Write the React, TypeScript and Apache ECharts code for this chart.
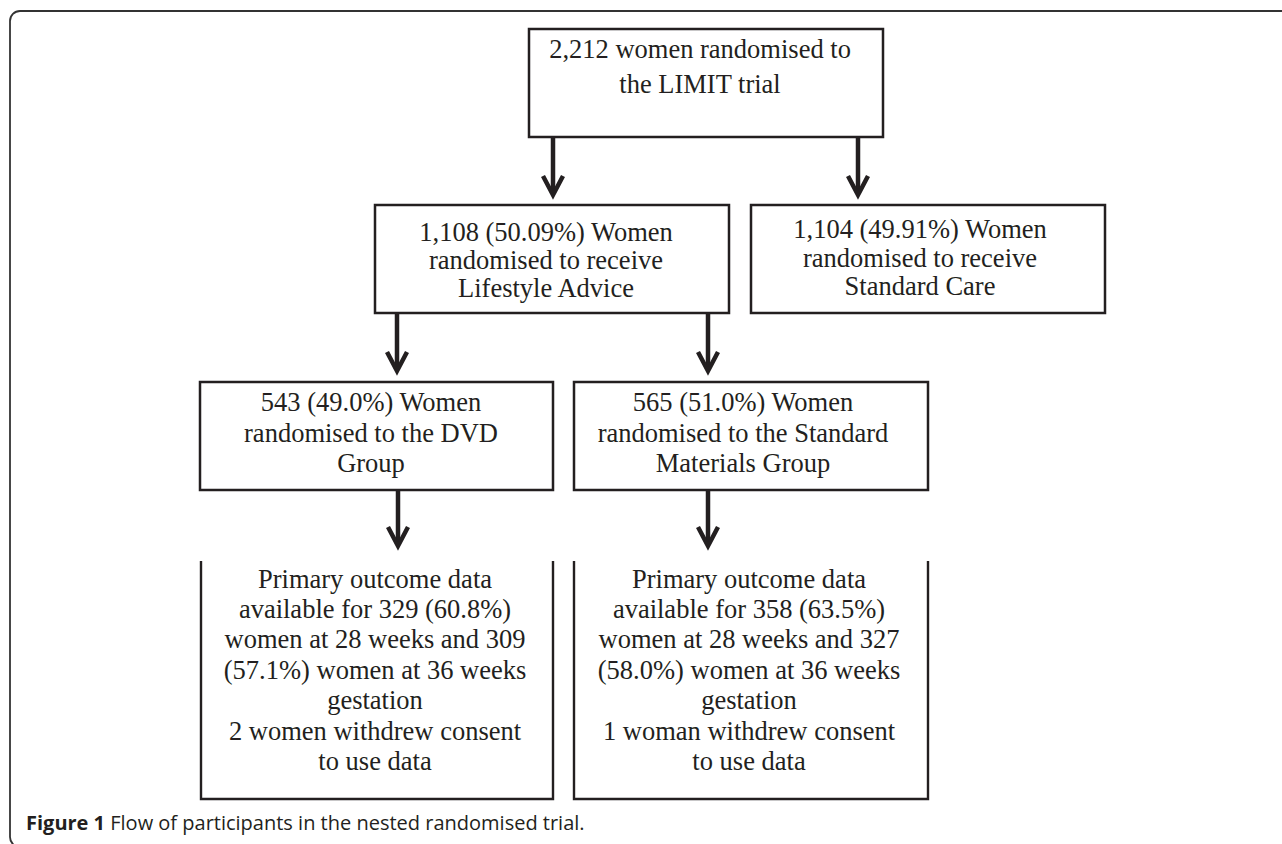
import React, { useEffect, useRef } from "react";
import * as echarts from "echarts";

// ---- Text content (data) ----
const trialLines = ["2,212 women randomised to", "the LIMIT trial"];
const lifestyleLines = ["1,108 (50.09%) Women", "randomised to receive", "Lifestyle Advice"];
const standardCareLines = ["1,104 (49.91%) Women", "randomised to receive", "Standard Care"];
const dvdLines = ["543 (49.0%) Women", "randomised to the DVD", "Group"];
const materialsLines = ["565 (51.0%) Women", "randomised to the Standard", "Materials Group"];
const dvdOutcomeLines = [
  "Primary outcome data",
  "available for 329 (60.8%)",
  "women at 28 weeks and 309",
  "(57.1%) women at 36 weeks",
  "gestation",
  "2 women withdrew consent",
  "to use data",
];
const materialsOutcomeLines = [
  "Primary outcome data",
  "available for 358 (63.5%)",
  "women at 28 weeks and 327",
  "(58.0%) women at 36 weeks",
  "gestation",
  "1 woman withdrew consent",
  "to use data",
];
const captionLabel = "Figure 1";
const captionText = " Flow of participants in the nested randomised trial.";

// ---- Layout / style ----
const W = 1282;
const H = 844;
const INK = "#231f20";
const SERIF = '"Liberation Serif", "Times New Roman", serif';
const SANS = '"Open Sans", "Noto Sans", sans-serif';
const FS = 26.5;
const CENTRAL = 0.3375 * FS; // alphabetic baseline -> central
const CAP_FS = 20;

type Box = {
  x: number; y: number; w: number; h: number;
  lines: string[]; cx: number; base: number; lh: number; open?: boolean;
};

const boxes: Box[] = [
  { x: 529, y: 29, w: 354, h: 108, lines: trialLines, cx: 700, base: 57.5, lh: 35 },
  { x: 375, y: 205, w: 354, h: 108, lines: lifestyleLines, cx: 546, base: 241, lh: 28 },
  { x: 751, y: 205, w: 354, h: 108, lines: standardCareLines, cx: 920, base: 238, lh: 28.5 },
  { x: 200, y: 382, w: 353, h: 108, lines: dvdLines, cx: 371, base: 411, lh: 30.5 },
  { x: 574, y: 382, w: 354, h: 108, lines: materialsLines, cx: 743, base: 411, lh: 30.5 },
  { x: 201, y: 561, w: 352, h: 238, lines: dvdOutcomeLines, cx: 375, base: 587.5, lh: 30.4, open: true },
  { x: 574, y: 561, w: 354, h: 238, lines: materialsOutcomeLines, cx: 749, base: 587.5, lh: 30.4, open: true },
];

const arrows: [number, number, number][] = [
  [553, 137, 200],
  [858, 137, 200],
  [397, 313, 376],
  [708, 313, 376],
  [398, 490, 551],
  [708, 490, 551],
];

function buildElements() {
  const els: any[] = [];
  els.push({
    type: "rect",
    shape: { x: 10, y: 11, width: 1400, height: 836, r: [10, 0, 0, 10] },
    style: { fill: "none", stroke: "#333", lineWidth: 1.8 },
  });
  boxes.forEach((b) => {
    if (b.open) {
      els.push({
        type: "polyline",
        shape: { points: [[b.x, b.y], [b.x, b.y + b.h], [b.x + b.w, b.y + b.h], [b.x + b.w, b.y]] },
        style: { fill: null, stroke: INK, lineWidth: 2.4, lineJoin: "miter" },
      });
    } else {
      els.push({
        type: "rect",
        shape: { x: b.x, y: b.y, width: b.w, height: b.h },
        style: { fill: "none", stroke: INK, lineWidth: 2.5 },
      });
    }
    b.lines.forEach((t, i) => {
      els.push({
        type: "text",
        x: b.cx,
        y: b.base + i * b.lh - CENTRAL,
        style: {
          text: t,
          fontFamily: SERIF,
          fontSize: FS,
          fill: INK,
          align: "center",
          verticalAlign: "middle",
        },
      });
    });
  });
  arrows.forEach(([x, y0, y1]) => {
    els.push({
      type: "line",
      shape: { x1: x, y1: y0, x2: x, y2: y1 - 8 },
      style: { stroke: INK, lineWidth: 4.5 },
    });
    els.push({
      type: "polyline",
      shape: { points: [[x - 10, y1 - 24], [x, y1 - 5], [x + 10, y1 - 24]] },
      style: { fill: null, stroke: INK, lineWidth: 4.5, lineJoin: "miter", miterLimit: 10 },
    });
  });
  els.push({
    type: "text",
    x: 26,
    y: 830 - 0.388 * CAP_FS,
    style: {
      text: "{b|" + captionLabel + "}" + captionText,
      fontFamily: SANS,
      fontSize: CAP_FS,
      fill: INK,
      align: "left",
      verticalAlign: "middle",
      rich: {
        b: { fontFamily: SANS, fontSize: CAP_FS, fontWeight: "bold", fill: INK },
      },
    },
  });
  return els;
}

export default function App() {
  const ref = useRef<HTMLDivElement>(null);
  useEffect(() => {
    if (!ref.current) return;
    const chart = echarts.init(ref.current, null, { renderer: "svg" });
    chart.setOption({
      animation: false,
      backgroundColor: "#ffffff",
      graphic: { elements: buildElements() },
    });
    return () => chart.dispose();
  }, []);
  return (
    <div
      ref={ref}
      style={{ position: "absolute", left: 0, top: 0, width: W, height: H, background: "#fff" }}
    />
  );
}
